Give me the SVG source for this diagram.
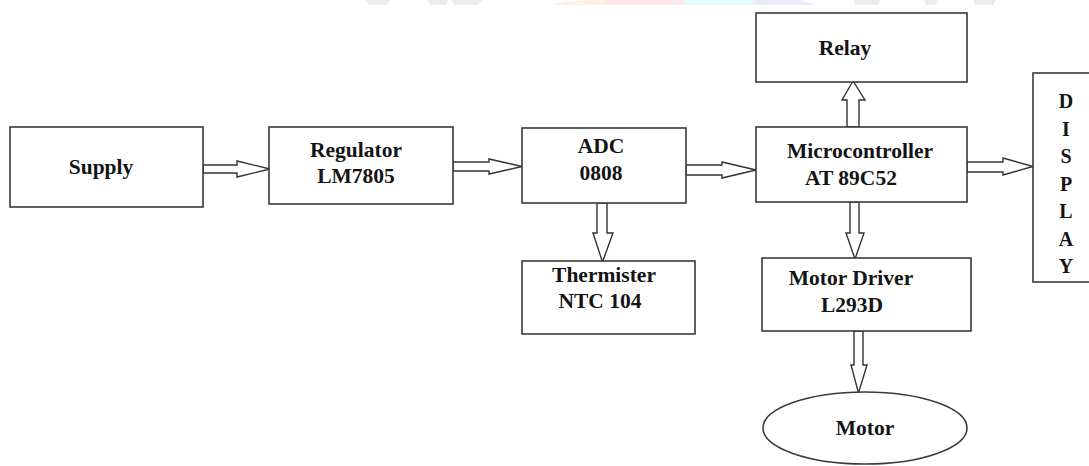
<svg xmlns="http://www.w3.org/2000/svg" width="1089" height="466" viewBox="0 0 1089 466">
  <style>
    .box { fill: #ffffff; stroke: #3a3a3a; stroke-width: 1.6; }
    .arw { fill: #ffffff; stroke: #333333; stroke-width: 1.4; stroke-linejoin: miter; }
    .lbl { font-family: "Liberation Serif", "Times New Roman", serif; font-weight: bold; font-size: 21.5px; fill: #141414; text-anchor: middle; }
    .vert { font-family: "Liberation Serif", "Times New Roman", serif; font-weight: bold; font-size: 20px; fill: #141414; text-anchor: middle; }
    .wm { opacity: 0.55; }
  </style>

  <rect x="0" y="0" width="1089" height="466" fill="#ffffff"/>

  <!-- faint banner strip along the top edge -->
  <g id="banner" class="wm">
    <polygon points="366,0 390,0 387,5 369,5" fill="#d7dde3"/>
    <polygon points="427,0 448,0 446,5 430,5" fill="#d7dde3"/>
    <polygon points="451,0 482,0 478,5 455,5" fill="#d7dde3"/>
    <polygon points="549,5 570,1 605,0 605,5" fill="#ffe2c8"/>
    <rect x="605" y="0" width="79" height="5" fill="#ffd2d6"/>
    <rect x="684" y="0" width="72" height="5" fill="#d2f6fa"/>
    <polygon points="756,0 800,0 816,5 756,5" fill="#d8dcf5"/>
    <polygon points="853,0 880,0 878,5 856,5" fill="#d7dde3"/>
    <polygon points="925,0 937,0 936,5 926,5" fill="#d7dde3"/>
    <polygon points="973,0 996,0 993,5 975,5" fill="#d7dde3"/>
  </g>

  <!-- block arrows -->
  <g id="connectors">
    <!-- Supply -> Regulator -->
    <path class="arw" d="M203,165 H237 V161 L270,169 L237,177 V173 H203 Z"/>
    <!-- Regulator -> ADC -->
    <path class="arw" d="M453,162 H489 V159 L522,166.5 L489,174 V171 H453 Z"/>
    <!-- ADC -> Microcontroller -->
    <path class="arw" d="M686,165 H722 V162 L756,170 L722,178 V175 H686 Z"/>
    <!-- Microcontroller -> Display -->
    <path class="arw" d="M967,162 H1003 V158 L1033,166.5 L1003,175 V172 H967 Z"/>
    <!-- Microcontroller -> Relay -->
    <path class="arw" d="M847,127 V100 H842 L853,81 L865,100 H859 V127 Z"/>
    <!-- ADC -> Thermister -->
    <path class="arw" d="M597,203 V233 H593 L602.5,262 L613,233 H607 V203 Z"/>
    <!-- Microcontroller -> Motor Driver -->
    <path class="arw" d="M850,202 V233 H846 L855,259 L864,233 H859 V202 Z"/>
    <!-- Motor Driver -> Motor -->
    <path class="arw" d="M854,331 V365 H851 L858.5,393 L867,365 H863 V331 Z"/>
  </g>

  <g id="supply">
    <rect class="box" x="10" y="127" width="193" height="80"/>
    <text class="lbl" x="101" y="174">Supply</text>
  </g>

  <g id="regulator">
    <rect class="box" x="269" y="127" width="184" height="77"/>
    <text class="lbl" x="356" y="157">Regulator</text>
    <text class="lbl" x="356" y="183">LM7805</text>
  </g>

  <g id="adc">
    <rect class="box" x="522" y="128" width="164" height="75"/>
    <text class="lbl" x="601" y="153">ADC</text>
    <text class="lbl" x="601" y="180">0808</text>
  </g>

  <g id="thermister">
    <rect class="box" x="522" y="261" width="173" height="73"/>
    <text class="lbl" x="604" y="282">Thermister</text>
    <text class="lbl" x="600" y="308">NTC 104</text>
  </g>

  <g id="relay">
    <rect class="box" x="756" y="13" width="211" height="69"/>
    <text class="lbl" x="845" y="55">Relay</text>
  </g>

  <g id="microcontroller">
    <rect class="box" x="756" y="127" width="211" height="75"/>
    <text class="lbl" x="860" y="158">Microcontroller</text>
    <text class="lbl" x="851" y="185">AT 89C52</text>
  </g>

  <g id="motor-driver">
    <rect class="box" x="762" y="258" width="209" height="73"/>
    <text class="lbl" x="851" y="285">Motor Driver</text>
    <text class="lbl" x="852" y="312">L293D</text>
  </g>

  <g id="motor">
    <ellipse class="box" cx="865" cy="428" rx="102" ry="36"/>
    <text class="lbl" x="865" y="435">Motor</text>
  </g>

  <g id="display">
    <rect class="box" x="1033" y="73" width="70" height="209"/>
    <text class="vert" x="1066" y="108">D</text>
    <text class="vert" x="1066" y="135.5">I</text>
    <text class="vert" x="1066" y="163">S</text>
    <text class="vert" x="1066" y="190.5">P</text>
    <text class="vert" x="1066" y="218">L</text>
    <text class="vert" x="1066" y="245.5">A</text>
    <text class="vert" x="1066" y="273">Y</text>
  </g>
</svg>
